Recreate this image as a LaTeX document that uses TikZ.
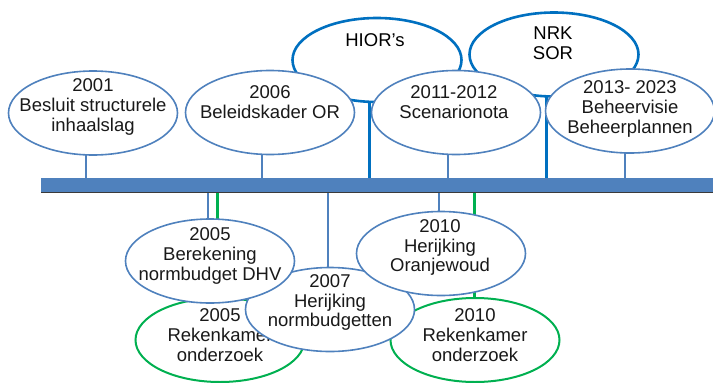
\documentclass[tikz,border=0pt]{standalone}
\usepackage{fontspec}
\setmainfont{Liberation Sans}
\usetikzlibrary{shapes.geometric,backgrounds,calc}
\definecolor{lblue}{HTML}{4F81BD}
\definecolor{dblue}{HTML}{0070C0}
\definecolor{grn}{HTML}{00B050}
\definecolor{barline}{HTML}{3A3A3A}
\begin{document}
\begin{tikzpicture}[x=1pt,y=-1pt,
  ev/.style={ellipse, draw=lblue, line width=1.6pt, fill=white,
    minimum width=169pt, minimum height=84pt, inner sep=0pt},
  evd/.style={ev, draw=dblue, line width=2.6pt},
  evg/.style={ev, draw=grn, line width=2pt},
  txt/.style={align=center, inner sep=0pt, text=black!90,
    font=\fontsize{18.5}{19.8}\selectfont},
  stemb/.style={draw=lblue, line width=2.2pt},
  stemd/.style={draw=dblue, line width=3pt},
  stemg/.style={draw=grn, line width=3pt}]
\useasboundingbox (0,0) rectangle (713,383);
% upper back ellipses
\node[evd] (hior) at (377,60) {};
\node[evd] (nrk) at (554,54.5) {};
\node[txt, text=black] (thior) at (375,40) {HIOR’s};
\node[txt, text=black] (tnrk) at (553,43) {NRK\\SOR};
% upper front ellipses
\node[ev] (e2001) at (93,113) {};
\node[txt] (t2001) at (93,107) {2001\\Besluit structurele\\inhaalslag};
\node[ev] (e2006) at (270,112.5) {};
\node[txt] (t2006) at (270,102.5) {2006\\Beleidskader OR};
\node[ev] (escen) at (456,112.5) {};
\node[txt] (tscen) at (454,102.5) {2011-2012\\Scenarionota};
\node[ev] (e2013) at (630,111) {};
\node[txt] (t2013) at (630,109) {2013- 2023\\Beheervisie\\Beheerplannen};
% timeline bar
\node[rectangle, fill=lblue, draw=none, minimum width=672pt, minimum height=14pt,
  inner sep=0pt, anchor=north west] (bar) at (41,178) {};
\draw[barline, line width=1.6pt] (bar.south west) -- (bar.south east);
% lower ellipses
\node[evg] (g2005) at (220,340) {};
\node[evg] (g2010) at (475,340) {};
\node[txt] (tg2005) at (220,335) {2005\\Rekenkamer\\onderzoek};
\node[txt] (tg2010) at (475,335) {2010\\Rekenkamer\\onderzoek};
\node[ev] (e2007) at (330,309.5) {};
\node[txt] (t2007) at (330,302.5) {2007\\Herijking\\normbudgetten};
\node[ev] (e2005) at (210,261) {};
\node[txt] (t2005) at (210,256) {2005\\Berekening\\normbudget DHV};
\node[ev] (e2010) at (441,253.5) {};
\node[txt] (t2010) at (440,247.5) {2010\\Herijking\\Oranjewoud};
% stems
\begin{scope}[on background layer]
  \draw[stemb] ([xshift=-7pt]e2001.center) -- ([xshift=-7pt]e2001.center |- bar.north);
  \draw[stemb] ([xshift=-8pt]e2006.center) -- ([xshift=-8pt]e2006.center |- bar.north);
  \draw[stemb] ([xshift=-8pt]escen.center) -- ([xshift=-8pt]escen.center |- bar.north);
  \draw[stemb] ([xshift=-5pt]e2013.center) -- ([xshift=-5pt]e2013.center |- bar.north);
  \draw[stemd] ([xshift=-8pt]hior.center) -- ([xshift=-8pt]hior.center |- bar.north);
  \draw[stemd] ([xshift=-8pt]nrk.center) -- ([xshift=-8pt]nrk.center |- bar.north);
  \draw[stemb] ([xshift=-2pt]e2005.center) -- ([xshift=-2pt]e2005.center |- bar.south);
  \draw[stemg] ([xshift=-3pt]g2005.center) -- ([xshift=-3pt]g2005.center |- bar.south);
  \draw[stemb] ([xshift=-2pt]e2007.center) -- ([xshift=-2pt]e2007.center |- bar.south);
  \draw[stemb] ([xshift=-2pt]e2010.center) -- ([xshift=-2pt]e2010.center |- bar.south);
  \draw[stemg] ([xshift=-1pt]g2010.center) -- ([xshift=-1pt]g2010.center |- bar.south);
\end{scope}
\end{tikzpicture}
\end{document}
